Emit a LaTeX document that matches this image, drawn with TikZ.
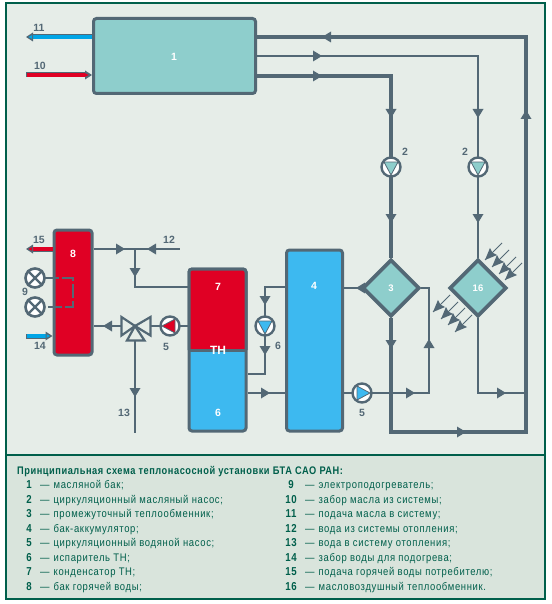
\documentclass[tikz,border=0pt]{standalone}
\usepackage{fontspec}
\setmainfont{Liberation Sans}
\newfontfamily\lgfont[FakeStretch=0.86,LetterSpace=6]{Liberation Sans}
\newfontfamily\lgbold[FakeStretch=0.84,LetterSpace=5]{Liberation Sans Bold}
\usetikzlibrary{shapes.geometric,calc}
\definecolor{frameg}{HTML}{005F4B}
\definecolor{bgup}{HTML}{E6EDE8}
\definecolor{bglow}{HTML}{D9E4DC}
\definecolor{pipec}{HTML}{536875}
\definecolor{teal}{HTML}{8ECECC}
\definecolor{hot}{HTML}{E00024}
\definecolor{cold}{HTML}{3DB9F0}
\definecolor{hblue}{HTML}{00A5E6}
\tikzset{
 x=1pt,y=-1pt,
 pipe/.style={draw=pipec,line width=2.9pt,line join=miter},
 thickpipe/.style={draw=pipec,line width=3.7pt},
 tank/.style={draw=pipec,line width=3pt,rounded corners=3pt,inner sep=0pt,rectangle},
 hex/.style={diamond,draw=pipec,line width=3.6pt,fill=teal,shape aspect=1,inner sep=0pt,minimum width=57pt,minimum height=57pt},
 pumpc/.style={circle,draw=pipec,line width=2.4pt,fill=white,inner sep=0pt,minimum size=19pt},
 lab/.style={font=\bfseries\fontsize{10.5}{10.5}\selectfont,text=pipec,inner sep=0pt},
 wlab/.style={font=\bfseries\fontsize{10.5}{10.5}\selectfont,text=white,inner sep=0pt},
 lgnum/.style={font=\lgbold\fontsize{11.5}{11.5}\selectfont,text=frameg,inner sep=0pt,anchor=base},
 lgtxt/.style={font=\lgfont\fontsize{11}{11}\selectfont,text=frameg,inner sep=0pt,anchor=base west},
 valvet/.style={draw=pipec,line width=2.2pt,fill=bgup,line join=miter},
}
% flow tip: x, y, direction in picture terms (0 right, 90 down)
\newcommand{\ftip}[3]{\fill[pipec,shift={(#1,#2)},rotate=-#3] (0,0) -- (-9,-5.5) -- (-9,5.5) -- cycle;}
\newcommand{\htip}[2]{\fill[pipec,shift={(#1)},rotate=-#2] (0,0) -- (-12,-5) -- (-10.5,0) -- (-12,5) -- cycle;}
% pump: name, x, y, angle, colour
\newcommand{\mypump}[5]{\node[pumpc] (#1) at (#2,#3) {};
 \filldraw[fill=#5,draw=pipec,line width=0.8pt,shift={(#2,#3)},rotate=-#4] (8,0) -- (-5,-7) -- (-5,7) -- cycle;}
\begin{document}
\begin{tikzpicture}
\useasboundingbox (0,0) rectangle (551,604);
\fill[white] (0,0) rectangle (551,604);
\fill[bgup] (6,3) rectangle (545,455);
\fill[bglow] (6,455) rectangle (545,599);
\draw[frameg,line width=2pt] (6,3) rectangle (545,599);
\draw[frameg,line width=2pt] (6,455) -- (545,455);

% tanks
\node[tank,fill=teal,minimum width=162pt,minimum height=75pt] (t1) at (174.5,56) {};
\node[wlab] at (174,57) {1};
\node[tank,fill=cold,minimum width=56pt,minimum height=181pt] (t4) at (314.5,340.5) {};
\node[wlab] at (314,286) {4};
\node[tank,fill=hot,minimum width=38pt,minimum height=125pt] (t8) at (73,292.5) {};
\node[wlab] at (73,254) {8};
% heat pump tank 7/6
\node[tank,fill=cold,minimum width=57pt,minimum height=162pt] (t76) at (217.5,350) {};
\fill[hot,rounded corners=2pt] (189.5,269.5) rectangle (245.5,350);
\draw[thickpipe,line width=3pt,rounded corners=3pt] (189,350) -- (189,269) -- (246,269) -- (246,350);
\draw[thickpipe,line width=3pt] (189,350) -- (246,350);
\node[wlab] at (218,287) {7};
\node[wlab,font=\bfseries\fontsize{12}{12}\selectfont] at (218,350) {ТН};
\node[wlab] at (218,413) {6};

% heat exchangers
\node[hex] (h3) at (391,288) {};
\node[wlab,font=\bfseries\fontsize{9.5}{9.5}\selectfont] at (391,288) {3};
\node[hex] (h16) at (478,288) {};
\node[wlab,font=\bfseries\fontsize{9.5}{9.5}\selectfont] at (478,288) {16};

% junctions
\coordinate (p2a) at (391,167);
\coordinate (p2b) at (478,167);
\coordinate (c1) at (391,76);
\coordinate (c2) at (478,56);
\coordinate (c3) at (526,37);
\coordinate (c4) at (526,432);
\coordinate (c5) at (391,432);
\coordinate (c6) at (526,393);
\coordinate (c7) at (478,393);
\coordinate (c8) at (429,288);
\coordinate (c9) at (429,393);

% upper pipes
\draw[thickpipe] (t1.east |- c3) -- (c3) -- (c4) -- (c5) -- (h3.south);
\draw[pipe] (t1.east |- c2) -- (c2) -- (p2b);
\draw[thickpipe] (t1.east |- c1) -- (c1) -- (p2a);
\draw[thickpipe] (p2a) -- (h3.north);
\draw[pipe] (p2b) -- (h16.north);
\draw[pipe] (h16.south) -- (c7) -- (c6);
\draw[pipe] (h3.east) -- (c8) -- (c9) -- (t4.east |- c9);
\draw[pipe] (h3.west) -- (t4.east |- h3.west);

\mypump{pa}{391}{167}{90}{teal}
\mypump{pb}{478}{167}{90}{teal}
\mypump{pd}{362}{393}{0}{cold}

% heat-pump connections
\coordinate (d1) at (265,287);
\coordinate (d2) at (265,374);
\draw[pipe] (t4.west |- d1) -- (d1) -- (d2) -- (t76.east |- d2);
\draw[pipe] (t76.east |- c9) -- (t4.west |- c9);
\mypump{pe}{265}{326}{90}{cold}

% left part
\coordinate (e1) at (135,249);
\coordinate (e2) at (135,287);
\coordinate (e3) at (180,249);
\coordinate (e4) at (135,433);
\coordinate (e5) at (135,326);
\draw[pipe] (t8.east |- e1) -- (e3);
\draw[pipe] (e1) -- (e2) -- (t76.west |- e2);
\draw[pipe] (t76.west |- e5) -- (t8.east |- e5);
\draw[pipe] (e5) -- (e4);
\filldraw[valvet] (135,326) -- (121.5,317) -- (121.5,335.5) -- cycle;
\filldraw[valvet] (135,326) -- (150.5,317) -- (150.5,335.5) -- cycle;
\filldraw[valvet] (135,326) -- (127,340.5) -- (144.5,340.5) -- cycle;
\mypump{pc}{170}{326}{180}{hot}

% heaters
\node[pumpc,line width=2.6pt,minimum size=19pt] (q1) at (35,278) {};
\node[pumpc,line width=2.6pt,minimum size=19pt] (q2) at (35,307) {};
\foreach \q in {q1,q2}{
 \draw[pipec,line width=2.4pt] (\q.north west) -- (\q.south east);
 \draw[pipec,line width=2.4pt] (\q.north east) -- (\q.south west);
}
\coordinate (k1) at (73,278);
\coordinate (k2) at (73,307);
\draw[pipec,line width=2.4pt,dash pattern=on 14pt off 3pt] ($(q1)+(10,0)$) -- (k1) -- (k2) -- ($(q2)+(11,0)$);

% coloured external arrows
\coordinate (a11) at (26,37);
\coordinate (a10) at (26,75);
\coordinate (a15) at (26,249);
\coordinate (a14) at (26,336);
\draw[draw=pipec,line width=5pt] (t1.west |- a11) -- ($(a11)+(6,0)$);
\draw[draw=hblue,line width=3.4pt] (t1.west |- a11) -- ($(a11)+(6,0)$);
\fill[pipec] (a11) -- ++(7,-4.5) -- ++(0,9) -- cycle;
\fill[hblue] (28.5,37) -- (32,35.2) -- (32,38.8) -- cycle;
\draw[draw=pipec,line width=5pt] (a10) -- ($(t1.west |- a10)+(-6,0)$);
\draw[draw=hot,line width=3.4pt] ($(a10)+(1,0)$) -- ($(t1.west |- a10)+(-6,0)$);
\fill[pipec] (t1.west |- a10) -- ++(-7,-4.5) -- ++(0,9) -- cycle;
\fill[hot] (88.5,75) -- (85,73.2) -- (85,76.8) -- cycle;
\draw[draw=pipec,line width=5pt] (t8.west |- a15) -- ($(a15)+(6,0)$);
\draw[draw=hot,line width=3.4pt] (t8.west |- a15) -- ($(a15)+(6,0)$);
\fill[pipec] (a15) -- ++(7,-4.5) -- ++(0,9) -- cycle;
\fill[hot] (28.5,249) -- (32,247.2) -- (32,250.8) -- cycle;
\draw[draw=pipec,line width=5pt] (a14) -- ($(t8.west |- a14)+(-6,0)$);
\draw[draw=hblue,line width=3.4pt] ($(a14)+(1,0)$) -- ($(t8.west |- a14)+(-6,0)$);
\fill[pipec] (t8.west |- a14) -- ++(-7,-4.5) -- ++(0,9) -- cycle;
\fill[hblue] (50,336) -- (46.5,334.2) -- (46.5,337.8) -- cycle;

% flow tips
\ftip{322}{37}{180}
\ftip{322}{56}{0}
\ftip{322}{76}{0}
\ftip{526}{110}{-90}
\ftip{391}{118}{90}
\ftip{478}{118}{90}
\ftip{391}{223}{90}
\ftip{478}{223}{90}
\ftip{391}{349}{90}
\ftip{429}{339}{-90}
\ftip{356}{288}{180}
\ftip{415}{393}{0}
\ftip{466}{432}{0}
\ftip{506}{393}{0}
\ftip{270}{393}{0}
\ftip{265}{305}{90}
\ftip{265}{355}{90}
\ftip{125}{249}{0}
\ftip{147}{249}{180}
\ftip{135}{277}{90}
\ftip{103}{326}{180}
\ftip{135}{397}{90}

% heat radiation
\foreach \a/\b in {502/243,509/250,516/257,522/263}{
 \coordinate (s) at (\a,\b);
 \coordinate (t) at (\a-17,\b+17);
 \draw[pipec,line width=1pt] (s) -- (t);
 \htip{t}{135}
}
\foreach \a/\b in {450/295,458/302,465/308,472/315}{
 \coordinate (s) at (\a,\b);
 \coordinate (t) at (\a-17,\b+17);
 \draw[pipec,line width=1pt] (s) -- (t);
 \htip{t}{135}
}

% diagram labels
\node[lab] at (39,28) {11};
\node[lab] at (40,66) {10};
\node[lab] at (405,152) {2};
\node[lab] at (465,152) {2};
\node[lab] at (39,240) {15};
\node[lab] at (169,240) {12};
\node[lab] at (25,292) {9};
\node[lab] at (40,346) {14};
\node[lab] at (166,347) {5};
\node[lab] at (278,346) {6};
\node[lab] at (362,413) {5};
\node[lab] at (124,413) {13};

% legend
\node[font=\lgbold\fontsize{11}{11}\selectfont,text=frameg,anchor=base west,inner sep=0pt] (ttl) at (17,474) {Принципиальная схема теплонасосной установки БТА САО РАН:};
\foreach \n/\y/\t in {
 1/488/масляной бак;,
 2/503/циркуляционный масляный насос;,
 3/517/промежуточный теплообменник;,
 4/532/бак-аккумулятор;,
 5/546/циркуляционный водяной насос;,
 6/561/испаритель ТН;,
 7/575/конденсатор ТН;,
 8/590/бак горячей воды;}{
 \node[lgnum] at (29,\y) {\n};
 \node[lgtxt] at (40,\y) {—\hspace{4pt}\t};
}
\foreach \n/\y/\t in {
 9/488/электроподогреватель;,
 10/503/забор масла из системы;,
 11/517/подача масла в систему;,
 12/532/вода из системы отопления;,
 13/546/вода в систему отопления;,
 14/561/забор воды для подогрева;,
 15/575/подача горячей воды потребителю;,
 16/590/масловоздушный теплообменник.}{
 \node[lgnum] at (291,\y) {\n};
 \node[lgtxt] at (305,\y) {—\hspace{4pt}\t};
}
\end{tikzpicture}
\end{document}
